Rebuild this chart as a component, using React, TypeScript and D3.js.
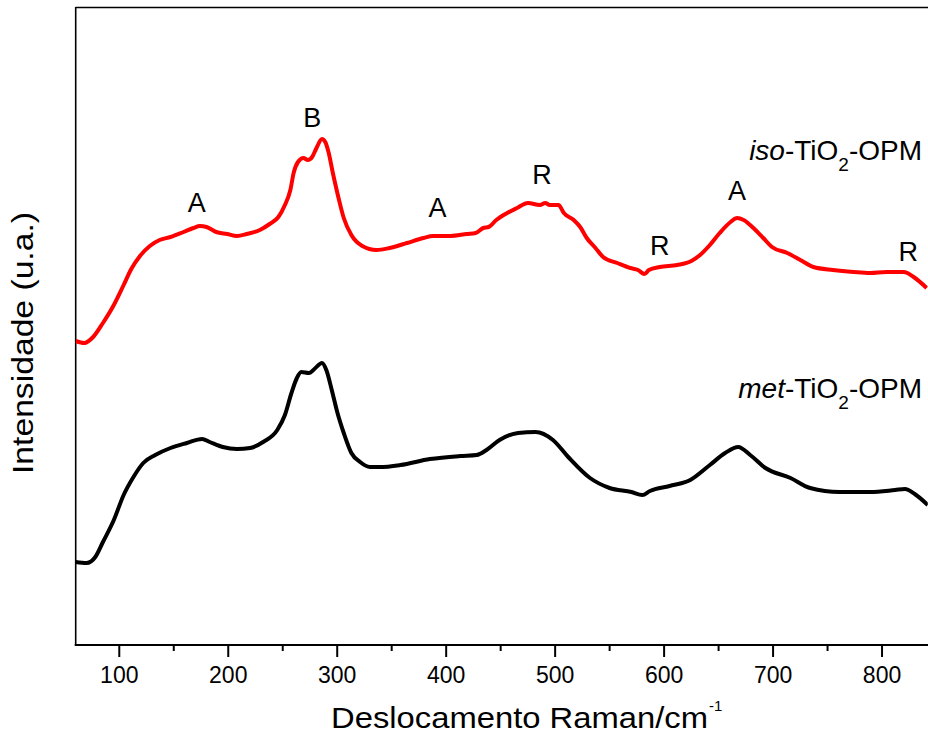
import React from 'react';
import * as d3 from 'd3';

// red spectrum (iso-TiO2-OPM)
const isoShift = [60, 68, 76, 85, 95, 104, 111, 119, 128, 137, 147, 159, 168, 174, 180, 189, 199, 208, 217, 229, 238, 246, 252, 257, 260, 264, 269, 273, 277, 281, 286, 289, 292, 296, 301, 306, 313, 323, 336, 348, 364, 379, 388, 404, 419, 427, 434, 439, 446, 456, 465, 475, 486, 491, 495, 503, 508, 517, 523, 529, 537, 544, 557, 569, 576, 582, 586, 596, 612, 625, 633, 642, 651, 661, 667, 673, 682, 691, 699, 713, 725, 737, 755, 774, 789, 804, 820, 829, 841];
const isoIntensity = [304, 302, 308, 322, 340, 360, 376, 389, 399, 405, 408, 413, 417, 419, 418, 413, 411, 409, 411, 415, 421, 428, 440, 455, 472, 483, 487, 485, 488, 497, 506, 503, 493, 472, 448, 427, 410, 399, 395, 397, 402, 407, 409, 409, 411, 412, 417, 418, 425, 432, 437, 442, 440, 442, 440, 440, 432, 425, 418, 407, 397, 388, 382, 377, 375, 371, 375, 378, 380, 384, 390, 400, 412, 423, 427, 425, 417, 407, 398, 392, 385, 378, 375, 373, 372, 373, 373, 368, 357];

// black spectrum (met-TiO2-OPM)
const metShift = [60, 70, 78, 85, 95, 104, 113, 122, 133, 147, 162, 176, 183, 195, 208, 220, 232, 245, 252, 258, 263, 267, 274, 280, 286, 290, 295, 300, 306, 313, 321, 330, 339, 358, 385, 413, 428, 437, 449, 466, 482, 498, 512, 532, 550, 570, 580, 587, 605, 624, 642, 656, 668, 679, 693, 716, 734, 761, 789, 812, 821, 830, 842];
const metIntensity = [83, 82, 88, 103, 125, 150, 168, 182, 190, 197, 202, 206, 203, 198, 196, 197, 203, 215, 230, 252, 267, 273, 272, 277, 282, 275, 255, 233, 212, 192, 183, 178, 178, 180, 186, 189, 190, 195, 205, 212, 213, 205, 188, 167, 157, 153, 150, 154, 159, 165, 180, 192, 198, 190, 177, 167, 157, 153, 153, 155, 156, 151, 140];

// band assignments (anatase / brookite / rutile)
const bandLabels = ['A', 'B', 'A', 'R', 'R', 'A', 'R'];
const bandShift = [171, 277, 392, 488, 596, 667, 824];
const bandIntensity = [433, 518, 428, 461, 390, 445, 384];

const font = '"Liberation Sans", Arial, sans-serif';

export default function App() {
  const x = d3.scaleLinear().domain([60, 842]).range([75.7, 927.8]);
  const y = d3.scaleLinear().domain([0, 638]).range([645, 7]);

  const spectrum = d3
    .line<[number, number]>()
    .x((d) => x(d[0]))
    .y((d) => y(d[1]))
    .curve(d3.curveMonotoneX);

  const isoPath = spectrum(isoShift.map((s, i) => [s, isoIntensity[i]]));
  const metPath = spectrum(metShift.map((s, i) => [s, metIntensity[i]]));

  const majors = x.ticks(8);
  const minors = d3.range(150, 842, 100);
  const [x0, x1] = x.range();
  const [yb, yt] = y.range();

  return (
    <svg
      width={928}
      height={742}
      style={{ position: 'absolute', left: 0, top: 0, background: '#fff' }}
      fontFamily={font}
    >
      <defs>
        <clipPath id='plot'>
          <rect x={x0} y={yt} width={x1 - x0} height={yb - yt} />
        </clipPath>
      </defs>

      {/* frame */}
      <line x1={x0} x2={928} y1={yt + 0.5} y2={yt + 0.5} stroke='#000' strokeWidth={1.5} />
      <line x1={x0} x2={x0} y1={yt} y2={yb} stroke='#000' strokeWidth={1.6} />
      <line x1={x0 - 1} x2={928} y1={yb} y2={yb} stroke='#000' strokeWidth={2} />

      {majors.map((t) => (
        <g key={t} transform={`translate(${x(t)},0)`}>
          <line y1={yb} y2={yb + 12} stroke='#000' strokeWidth={2} />
          <text y={683} textAnchor='middle' fontSize={23}>
            {t}
          </text>
        </g>
      ))}
      {minors.map((t) => (
        <line key={t} x1={x(t)} x2={x(t)} y1={yb} y2={yb + 6} stroke='#000' strokeWidth={2} />
      ))}

      <g clipPath='url(#plot)' fill='none' strokeWidth={4} strokeLinejoin='round'>
        <path d={metPath || ''} stroke='#000' />
        <path d={isoPath || ''} stroke='#ff0000' />
      </g>

      {bandLabels.map((b, i) => (
        <text
          key={i}
          x={x(bandShift[i])}
          y={y(bandIntensity[i])}
          textAnchor='middle'
          fontSize={27}
        >
          {b}
        </text>
      ))}

      <text x={922} y={160} textAnchor='end' fontSize={28}>
        <tspan fontStyle='italic'>iso</tspan>
        <tspan>-TiO</tspan>
        <tspan fontSize={19} dy={11}>2</tspan>
        <tspan dy={-11}>-OPM</tspan>
      </text>
      <text x={922} y={398} textAnchor='end' fontSize={28}>
        <tspan fontStyle='italic'>met</tspan>
        <tspan>-TiO</tspan>
        <tspan fontSize={19} dy={11}>2</tspan>
        <tspan dy={-11}>-OPM</tspan>
      </text>

      <text x={331} y={728} fontSize={29} textLength={377} lengthAdjust='spacingAndGlyphs'>
        Deslocamento Raman/cm
      </text>
      <text x={709} y={711} fontSize={15}>
        -1
      </text>

      <text
        transform='translate(33,343) rotate(-90)'
        textAnchor='middle'
        fontSize={29}
        textLength={262}
        lengthAdjust='spacingAndGlyphs'
      >
        Intensidade (u.a.)
      </text>
    </svg>
  );
}
